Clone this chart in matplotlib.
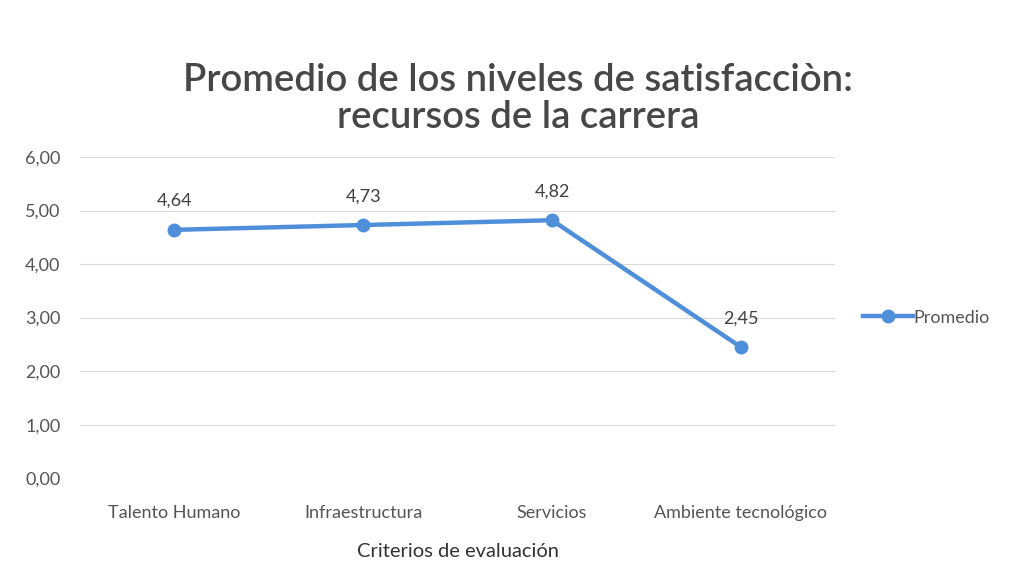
import matplotlib
matplotlib.use("Agg")
import matplotlib.pyplot as plt
from matplotlib.ticker import FuncFormatter

categories = ["Talento Humano", "Infraestructura", "Servicios", "Ambiente tecnológico"]
promedio = [4.64, 4.73, 4.82, 2.45]
yticks = [0, 1, 2, 3, 4, 5, 6]

plt.rcParams['font.family'] = ['Lato', 'DejaVu Sans']

fig = plt.figure(figsize=(10.1, 5.86), dpi=100)
ax = fig.add_axes([0.079, 0.184, 0.748, 0.548])

blue = "#4F8FDA"
x = list(range(len(categories)))
ax.plot(x, promedio, color=blue, lw=3.2, marker="o", ms=9, label="Promedio", zorder=3)
for xi, v in zip(x, promedio):
    ax.annotate(f"{v:.2f}".replace(".", ","), (xi, v), xytext=(0, 15), textcoords="offset points",
                ha="center", va="bottom", fontsize=13, color="#404040")

ax.set_xlim(-0.5, len(categories) - 0.5)
ax.set_ylim(0, 6)
ax.set_yticks(yticks)
ax.yaxis.set_major_formatter(FuncFormatter(lambda v, p: f"{v:.2f}".replace(".", ",")))
ax.set_xticks(x)
ax.set_xticklabels(categories)
ax.tick_params(axis="both", length=0, labelsize=13, labelcolor="#555555")
ax.tick_params(axis="y", pad=14)
ax.tick_params(axis="x", pad=19)
ax.grid(axis="y", color="#d9d9d9", lw=0.8)
ax.set_axisbelow(True)
for s in ax.spines.values():
    s.set_visible(False)

ax.set_xlabel("Criterios de evaluación", fontsize=14.5, color="#333333", labelpad=16)

fig.text(0.513, 1 - 99 / 586, "Promedio de los niveles de satisfacciòn:\nrecursos de la carrera",
         fontsize=27.5, fontweight="semibold", color="#474747", ha="center", va="center",
         linespacing=1.1)

ax.legend(loc="center left", bbox_to_anchor=(1.015, 0.5), frameon=False, fontsize=13,
          labelcolor="#555555", handlelength=2.8, handletextpad=0.0)

fig.savefig("out.png", dpi=100, facecolor="white")
